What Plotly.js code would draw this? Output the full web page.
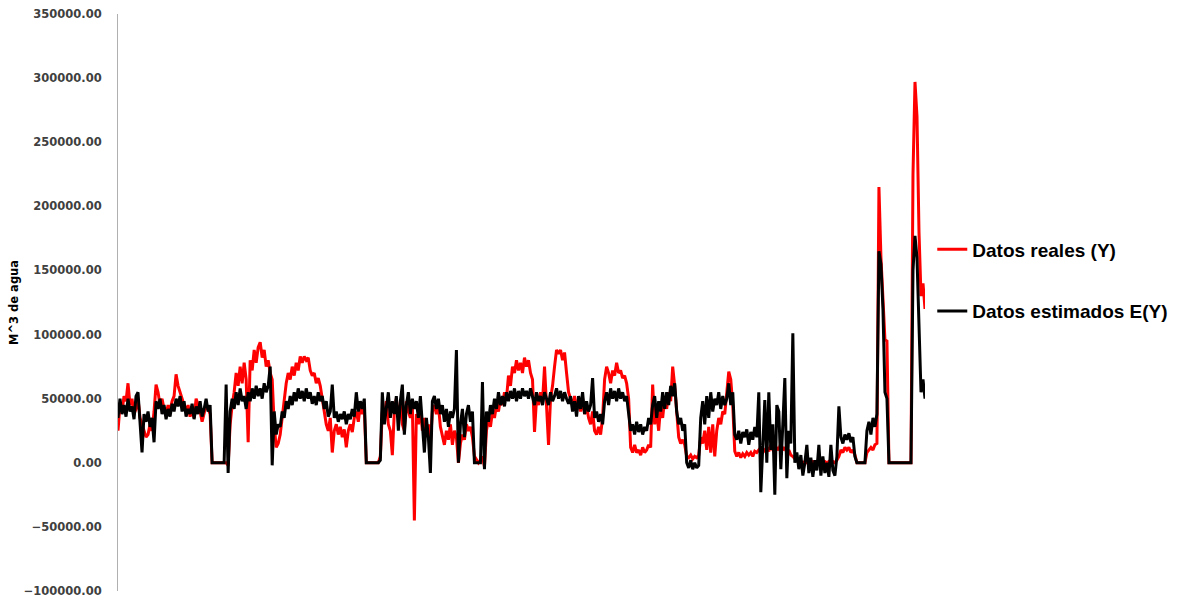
<!DOCTYPE html>
<html>
<head>
<meta charset="utf-8">
<script src="https://cdn.plot.ly/plotly-3.0.1.min.js"></script>
<style>html,body{margin:0;padding:0;background:#fff;}#chart{width:1177px;height:602px;}</style>
</head>
<body>
<div id="chart"></div>
<script>
// Values, in thousands of m^3 (one reading every ~2 px)
const UNIT = 1000;
const seriesNames = ["Datos reales (Y)", "Datos estimados E(Y)"];
const yAxisTitle = "M^3 de agua";
const realK = [
25,45,40,52,48,62,45,50,38,42,
50,35,30,25,20,22,30,25,40,61,
55,45,50,42,38,45,40,48,52,69,
60,55,50,45,40,45,36,42,35,50,
45,40,32,38,45,42,38,0,0,0,
0,0,0,0,0,-2,30,45,55,70,
60,75,62,78,65,16,80,72,88,78,
90,94,82,88,75,80,70,65,30,12,
15,22,35,50,62,70,65,75,68,78,
72,83,78,83,80,82,72,68,70,62,
66,60,50,40,30,25,35,8,25,30,
22,28,20,26,12,25,30,24,35,40,
32,45,38,42,0,0,0,0,0,0,
0,5,40,35,48,30,25,6,40,50,
35,45,30,25,48,40,35,45,-45,38,
30,42,25,35,20,30,15,40,45,38,
45,28,20,14,25,18,30,14,25,20,
0,15,22,18,30,25,28,20,5,2,
0,2,5,-3,25,35,28,40,35,45,
40,50,45,55,50,68,60,75,70,80,
72,78,70,82,75,80,70,65,24,50,
45,55,48,75,40,14,50,60,75,88,
85,88,80,86,70,55,50,45,52,42,
48,40,50,38,44,35,30,40,25,22,
28,22,35,65,75,70,62,72,68,78,
70,72,66,68,62,50,12,8,14,8,
10,6,12,8,10,14,12,61,30,40,
25,45,35,50,42,55,48,75,60,40,
20,15,18,14,5,4,6,3,5,4,
6,20,15,25,10,28,8,30,5,25,
35,30,40,38,55,71,65,45,9,5,
8,4,7,5,8,6,8,5,9,8,
10,12,8,10,12,9,14,10,8,12,
10,15,10,12,8,10,6,5,3,2,
1,1,0,1,0,1,0,1,0,1,
0,1,0,1,0,1,0,1,0,2,
5,10,8,12,10,12,8,10,6,0,
0,0,0,0,8,10,12,10,14,15,
215,160,130,96,95,0,0,0,0,0,
0,0,0,0,0,0,0,225,297,270,
180,130,140,120
];
const estK = [
35,50,38,45,36,50,40,44,34,52,
55,30,8,38,32,40,28,35,16,48,
42,50,38,45,34,42,36,46,40,50,
44,52,40,48,36,42,38,46,34,44,
38,48,36,42,50,40,45,0,0,0,
0,0,0,0,61,-8,40,50,42,55,
45,58,48,52,42,55,48,58,50,60,
52,58,50,62,55,60,75,-2,40,22,
30,28,40,35,48,42,52,45,55,48,
58,50,56,48,58,50,55,46,52,45,
55,48,52,42,48,36,40,61,35,40,
32,38,34,40,30,38,34,42,36,55,
40,48,42,50,0,0,0,0,0,0,
0,2,55,30,45,55,35,48,38,52,
25,48,61,22,45,55,38,50,42,48,
35,52,30,8,35,20,-8,48,52,42,
50,38,45,32,42,28,40,35,42,88,
0,30,42,20,38,45,32,40,0,0,
0,0,63,-5,40,32,45,38,50,42,
55,45,52,44,55,48,56,50,58,48,
56,50,58,52,56,50,58,52,45,55,
48,52,45,55,50,45,55,48,52,58,
50,56,48,55,50,46,52,40,48,36,
52,42,55,38,48,40,45,66,35,40,
32,38,30,48,55,45,58,50,56,48,
58,50,55,48,52,40,25,30,22,32,
24,30,22,28,25,35,30,45,52,35,
48,40,55,42,55,45,60,52,62,40,
30,35,25,30,0,-4,2,-5,0,-4,
-2,35,48,30,52,35,55,40,50,45,
55,42,52,45,50,62,45,55,22,18,
25,15,24,20,26,14,24,18,28,20,
55,-23,20,49,0,55,10,30,-25,45,
40,-5,30,66,-12,25,15,101,0,8,
-5,6,-10,0,14,-8,4,-11,2,-6,
14,-10,5,-8,0,-11,14,-6,-10,5,
44,20,15,22,18,23,16,20,5,0,
0,0,0,0,25,32,22,35,28,38,
165,155,120,55,50,0,0,0,0,0,
0,0,0,0,0,0,0,150,177,160,
110,55,65,50
];

const real = realK.map(v => v * UNIT);
const est = estK.map(v => v * UNIT);
const idx = real.map((_, i) => i);

const traces = [
  {x: idx, y: real, type: 'scatter', mode: 'lines', name: seriesNames[0], legendgroup: 'a',
   line: {color: '#ff0000', width: 3}},
  {x: idx, y: est, type: 'scatter', mode: 'lines', name: seriesNames[1], legendgroup: 'b',
   line: {color: '#000000', width: 3}}
];

const layout = {
  width: 1177, height: 602,
  margin: {l: 118, r: 252, t: 14, b: 11, autoexpand: false},
  paper_bgcolor: '#ffffff', plot_bgcolor: '#ffffff',
  showlegend: true,
  legend: {x: 1.009, y: 0.625, xanchor: 'left', yanchor: 'top', tracegroupgap: 34,
           font: {family: 'Liberation Sans, Arial, sans-serif', size: 19, color: '#000000', weight: 'bold'},
           bgcolor: 'rgba(0,0,0,0)'},
  xaxis: {range: [0, real.length - 1], visible: false, showgrid: false, zeroline: false},
  yaxis: {range: [-100000, 350000], dtick: 50000, tick0: 0, tickformat: '.2f',
          showgrid: false, zeroline: false, showline: true, linecolor: '#b0b0b0', linewidth: 1,
          ticks: '', ticklabelstandoff: 13,
          tickfont: {family: 'DejaVu Sans, Verdana, sans-serif', size: 11.5, color: '#404040', weight: 'bold'}},
  annotations: [{
    text: yAxisTitle, textangle: -90, xref: 'paper', yref: 'paper',
    x: (14 - 118) / 807, y: (591 - 303) / 577, xanchor: 'center', yanchor: 'middle', showarrow: false,
    font: {family: 'DejaVu Sans, Verdana, sans-serif', size: 11.5, color: '#000000', weight: 'bold'}
  }]
};

Plotly.newPlot('chart', traces, layout, {displayModeBar: false, staticPlot: true});
</script>
</body>
</html>
